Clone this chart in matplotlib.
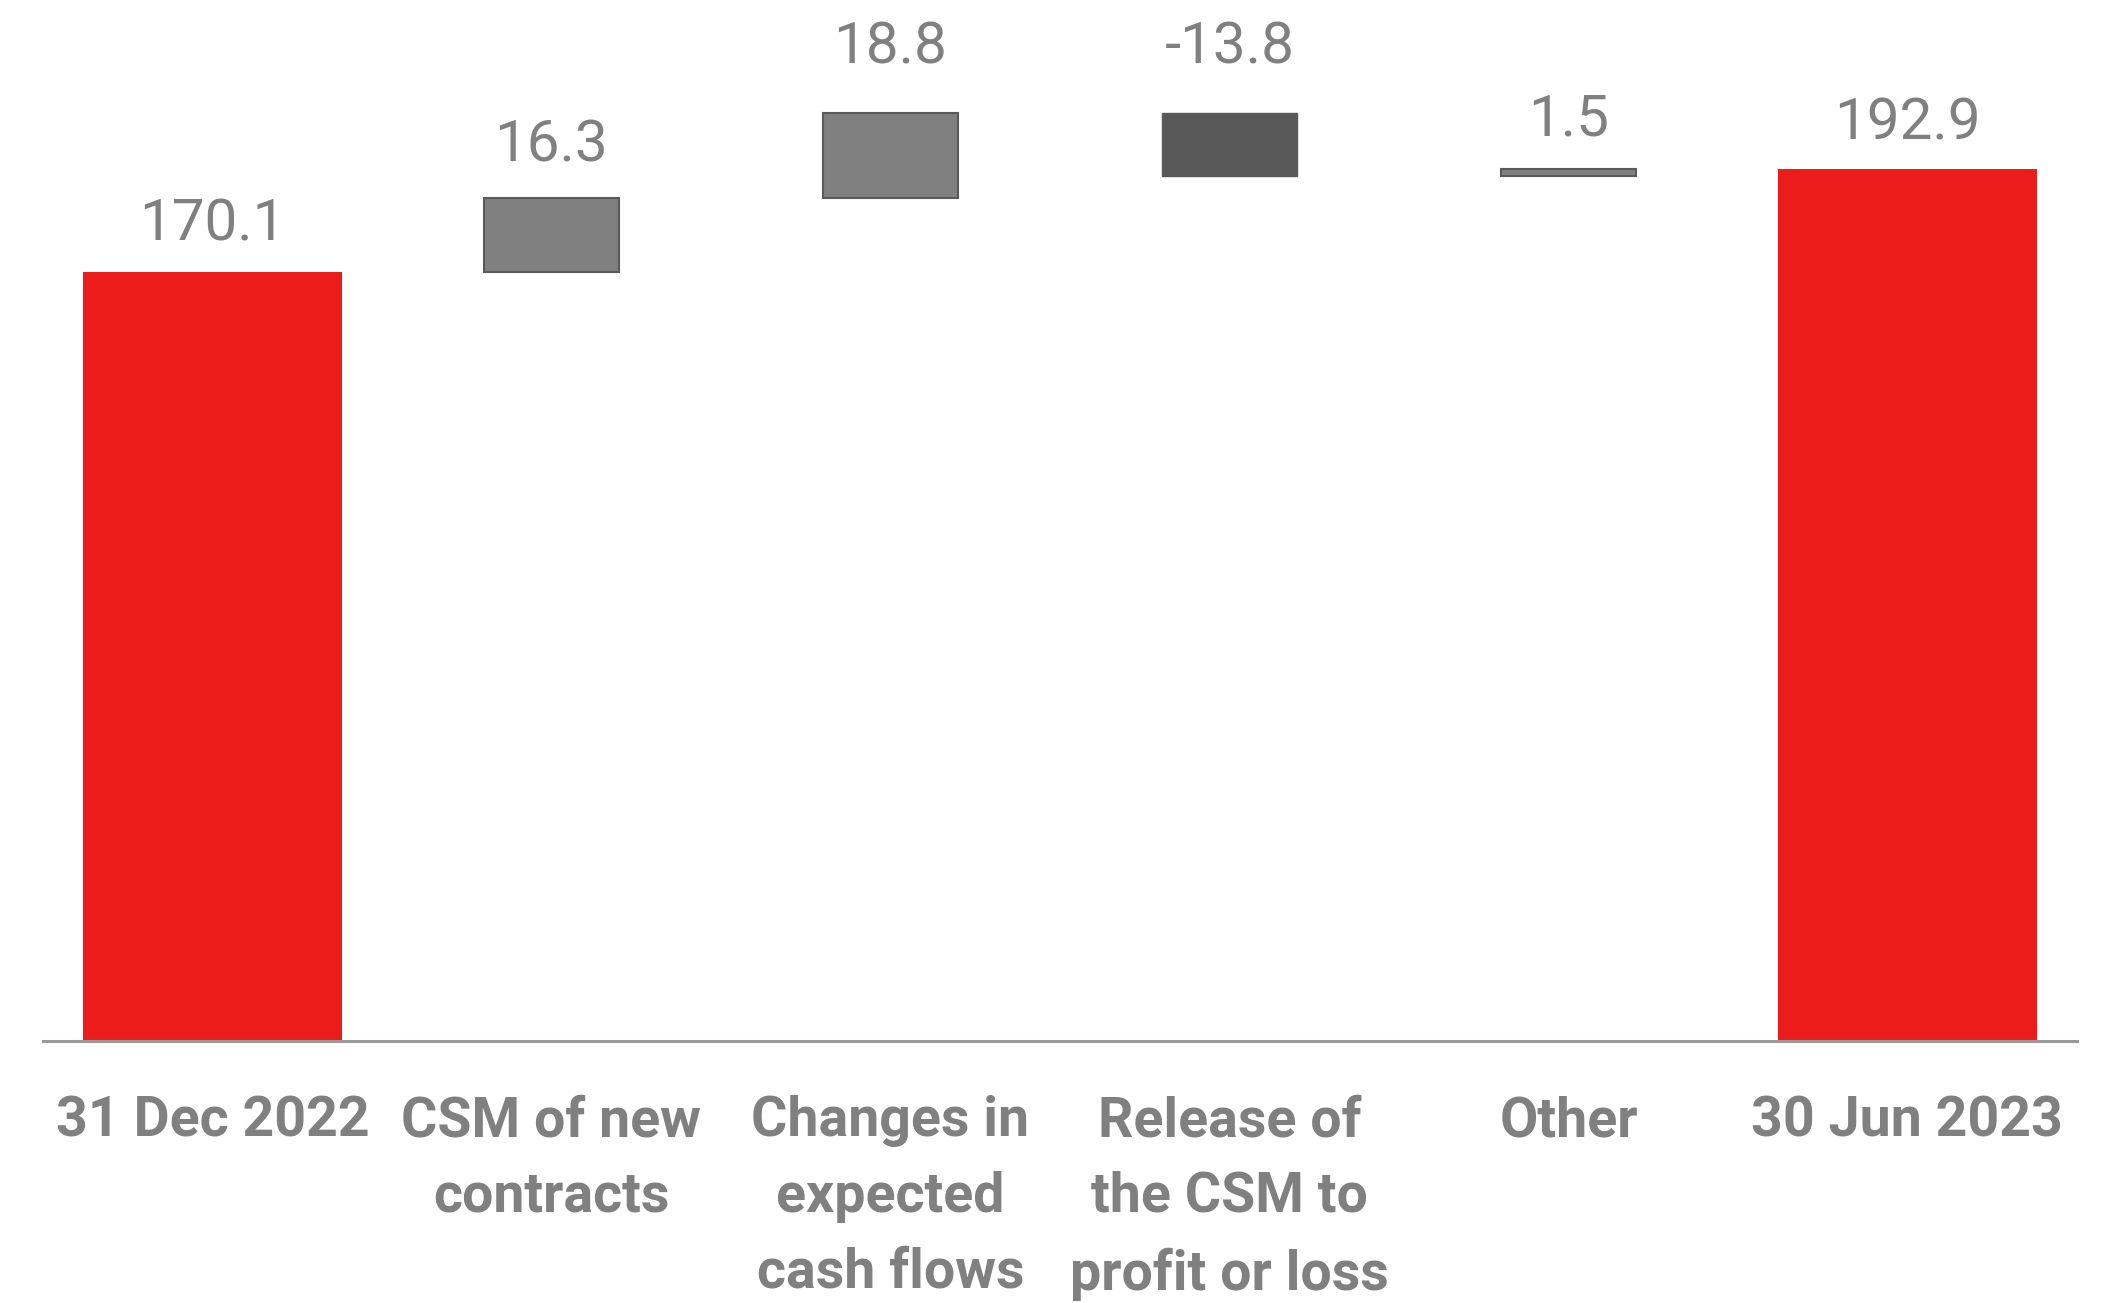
import matplotlib
matplotlib.use("Agg")
import matplotlib.pyplot as plt
from matplotlib import font_manager

categories = ["31 Dec 2022", "CSM of new\ncontracts", "Changes in\nexpected\ncash flows",
              "Release of\nthe CSM to\nprofit or loss", "Other", "30 Jun 2023"]
values = [170.1, 16.3, 18.8, -13.8, 1.5, 192.9]
kinds = ["total", "delta", "delta", "delta", "delta", "total"]
labels = ["170.1", "16.3", "18.8", "-13.8", "1.5", "192.9"]

# label vertical offsets above bar tops (pixels)
label_offsets = [32, 37, 50, 50, 34, 30]

names = {f.name for f in font_manager.fontManager.ttflist}
family = "Liberation Sans Narrow" if "Liberation Sans Narrow" in names else "Roboto"
plt.rcParams["font.family"] = [family, "DejaVu Sans"]

RED = "#ED1C1C"
GRAY = "#808080"
DARK = "#595959"
TXT = "#808080"

fig = plt.figure(figsize=(21.15, 13.03), dpi=100)
ax = fig.add_axes([0.0203, 0.2011, 0.9617, 0.7989])

running = 0.0
for i, (v, k) in enumerate(zip(values, kinds)):
    if k == "total":
        bottom, height = 0.0, v
        running = v
        ax.bar(i, height, bottom=bottom, width=0.765, color=RED, edgecolor="none", zorder=2)
    else:
        bottom = running if v >= 0 else running + v
        height = abs(v)
        running += v
        if v >= 0:
            ax.bar(i, height, bottom=bottom, width=0.4, color=GRAY, edgecolor="#5a5a5a",
                   linewidth=1.5, zorder=2)
        else:
            ax.bar(i, height, bottom=bottom, width=0.4, color=DARK, edgecolor=DARK,
                   linewidth=1.0, zorder=2)
    top = bottom + height
    ax.annotate(labels[i], xy=(i, top), xytext=(0, label_offsets[i]), textcoords="offset pixels",
                ha="center", va="baseline", fontsize=42, color=TXT)

ax.set_xlim(-0.5, 5.5)
ax.set_ylim(0, 230.3)
for s in ["top", "right", "left"]:
    ax.spines[s].set_visible(False)
ax.spines["bottom"].set_color("#999999")
ax.spines["bottom"].set_linewidth(2.2)
ax.set_yticks([])
ax.set_xticks(range(len(categories)))
ax.set_xticklabels(categories, fontsize=40, fontweight="bold", color=TXT, linespacing=1.58)
ax.tick_params(axis="x", length=0, pad=39)

fig.savefig("out.png", dpi=100)
